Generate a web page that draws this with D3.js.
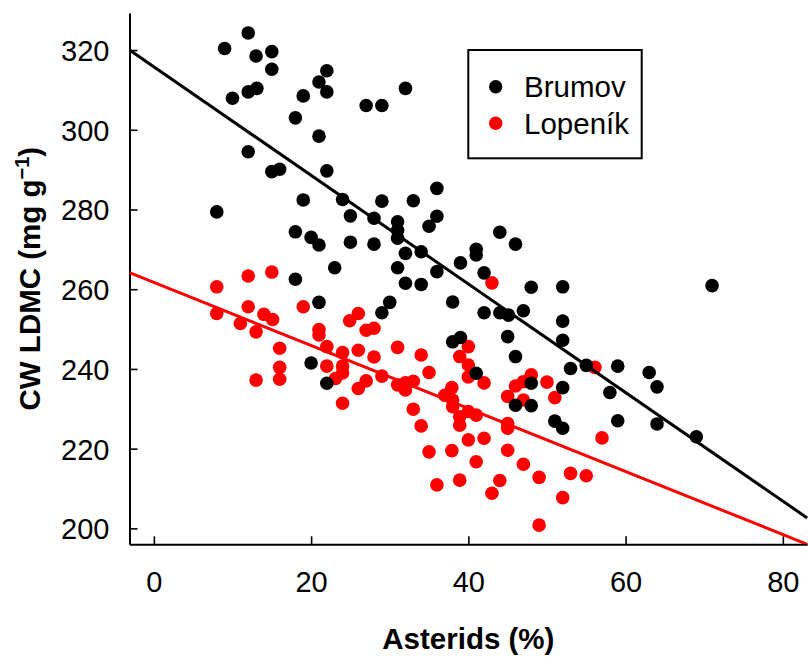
<!DOCTYPE html>
<html>
<head>
<meta charset="utf-8">
<script src="https://cdn.jsdelivr.net/npm/d3@7"></script>
<style>
  html, body { margin: 0; padding: 0; background: #fff; }
  svg { display: block; font-family: "Liberation Sans", Arial, sans-serif; }
</style>
</head>
<body>
<svg id="chart" width="808" height="657"></svg>
<script>
// Site samples: Asterids share (%) vs community-weighted LDMC (mg g-1)
const brumovX = [9.0, 12.0, 13.0, 15.0, 15.0, 10.0, 12.0, 13.1, 12.0, 15.0, 8.0, 22.0, 21.0, 22.0, 19.0, 18.0, 21.0, 27.0, 29.0, 32.0,
  16.0, 22.0, 19.0, 24.0, 29.0, 33.0, 36.0, 25.0, 28.0, 31.0, 31.0, 36.0, 35.0, 31.0, 18.0, 20.0, 21.0, 25.0, 28.0, 32.0,
  34.0, 23.0, 31.0, 39.0, 41.0, 41.0, 44.0, 46.0, 42.0, 36.0, 18.0, 32.0, 34.0, 21.0, 30.0, 29.0, 38.0, 48.0, 52.0, 42.0,
  44.0, 45.1, 47.0, 38.0, 39.0, 45.0, 46.0, 41.0, 20.0, 22.0, 48.0, 52.0, 46.0, 48.0, 51.0, 52.0, 71.0, 52.0, 52.0, 53.0,
  55.0, 59.0, 63.0, 64.0, 58.0, 59.0, 64.0, 69.0];
const brumovY = [320.4, 324.3, 318.5, 319.6, 315.2, 307.9, 309.5, 310.4, 294.5, 289.5, 279.4, 314.8, 312.0, 309.5, 308.5, 303.0, 298.4, 306.1, 306.1, 310.4,
  290.1, 289.7, 282.4, 282.5, 282.1, 282.2, 285.3, 278.4, 277.8, 276.9, 274.8, 278.3, 275.8, 272.8, 274.4, 273.0, 271.1, 271.8, 271.3, 269.0,
  269.4, 265.4, 265.4, 266.6, 270.0, 268.6, 274.3, 271.3, 264.1, 264.4, 262.5, 261.5, 261.2, 256.7, 256.7, 254.1, 256.8, 260.5, 260.6, 254.1,
  254.1, 253.5, 254.6, 246.8, 247.9, 248.1, 243.1, 238.9, 241.5, 236.4, 236.4, 235.3, 230.9, 230.8, 226.9, 225.1, 260.9, 252.0, 247.2, 240.1,
  240.9, 240.7, 239.1, 235.5, 234.1, 227.0, 226.2, 223.0];

const lopenikX = [8.0, 12.0, 15.0, 8.0, 12.0, 11.0, 13.0, 14.0, 15.1, 13.0, 19.0, 16.0, 16.0, 16.0, 21.0, 21.0, 22.0, 24.0, 24.0, 24.0,
  23.1, 22.0, 24.0, 24.9, 26.0, 27.0, 28.0, 26.0, 28.0, 27.0, 26.0, 29.0, 31.0, 31.0, 32.0, 32.0, 33.0, 34.0, 35.0, 33.0,
  34.0, 35.0, 36.0, 37.0, 37.9, 38.0, 38.0, 38.9, 38.9, 40.0, 41.0, 40.0, 42.0, 37.9, 41.0, 38.9, 40.0, 38.9, 40.0, 40.0,
  42.0, 45.0, 45.0, 45.0, 45.0, 47.0, 49.0, 44.0, 43.0, 49.0, 46.0, 47.0, 48.0, 50.0, 47.0, 51.0, 52.0, 43.0, 56.1, 57.0,
  53.0, 55.0];
const lopenikY = [260.6, 263.3, 264.3, 253.9, 255.6, 251.4, 249.3, 253.7, 252.4, 237.2, 255.6, 245.2, 240.4, 237.4, 249.9, 248.5, 245.6, 244.1, 240.7, 239.0,
  237.6, 240.7, 231.4, 252.1, 253.9, 249.7, 250.2, 244.7, 243.0, 237.0, 235.1, 238.2, 245.4, 236.0, 234.7, 236.5, 236.9, 243.5, 239.1, 229.9,
  225.7, 219.2, 210.9, 233.4, 235.3, 232.2, 230.5, 228.0, 225.9, 229.3, 228.4, 222.2, 222.6, 219.5, 216.7, 212.1, 245.6, 243.1, 241.0, 238.0,
  236.5, 233.1, 226.3, 225.1, 219.6, 216.1, 212.8, 212.0, 208.8, 200.8, 235.7, 236.8, 238.5, 236.7, 232.2, 232.8, 207.7, 261.6, 240.4, 222.7,
  213.8, 213.2];

// Linear fits [intercept, slope]
const brumovFit = [315.8, -1.362];
const lopenikFit = [261.7, -0.7906];

const seriesNames = ["Brumov", "Lopeník"];
const seriesColors = ["#000000", "#ff0000"];
const xTicks = [0, 20, 40, 60, 80];
const yTicks = [200, 220, 240, 260, 280, 300, 320];
const xDomain = [-3.1, 83.1];
const yDomain = [196, 329.3];

(function () {
  const svg = d3.select("#chart");
  const mLeft = 129.5, mRight = 807.2, mTop = 13, mBottom = 544.3;

  const x = d3.scaleLinear().domain(xDomain).range([mLeft, mRight]);
  const y = d3.scaleLinear().domain(yDomain).range([mBottom, mTop]);

  svg.append("defs").append("clipPath").attr("id", "plotClip")
    .append("rect").attr("x", mLeft).attr("y", mTop)
    .attr("width", mRight - mLeft + 2).attr("height", mBottom - mTop);

  // Axes with inward ticks
  const xAxis = svg.append("g").attr("transform", `translate(0,${mBottom})`)
    .call(d3.axisBottom(x).tickValues(xTicks).tickSizeInner(-8).tickSizeOuter(0));
  const yAxis = svg.append("g").attr("transform", `translate(${mLeft},0)`)
    .call(d3.axisLeft(y).tickValues(yTicks).tickSizeInner(-8).tickSizeOuter(0));

  [xAxis, yAxis].forEach(ax => {
    ax.select(".domain").attr("stroke", "#000").attr("stroke-width", 2);
    ax.selectAll(".tick line").attr("stroke", "#000").attr("stroke-width", 1.6);
    ax.selectAll(".tick text").attr("fill", "#000")
      .style("font-size", "29px").style("font-family", '"Liberation Sans", Arial, sans-serif');
  });
  xAxis.selectAll(".tick text").attr("y", 48).attr("dy", null);
  yAxis.selectAll(".tick text").attr("x", -20).attr("dy", "0.36em");

  // Points
  const plot = svg.append("g").attr("clip-path", "url(#plotClip)");
  const lopenik = lopenikX.map((v, i) => [v, lopenikY[i]]);
  const brumov = brumovX.map((v, i) => [v, brumovY[i]]);

  plot.append("g").selectAll("circle").data(lopenik).join("circle")
    .attr("cx", d => x(d[0])).attr("cy", d => y(d[1])).attr("r", 6.8)
    .attr("fill", seriesColors[1]);
  plot.append("g").selectAll("circle").data(brumov).join("circle")
    .attr("cx", d => x(d[0])).attr("cy", d => y(d[1])).attr("r", 6.8)
    .attr("fill", seriesColors[0]);

  // Regression lines
  [[brumovFit, seriesColors[0]], [lopenikFit, seriesColors[1]]].forEach(([fit, col]) => {
    const pts = xDomain.map(v => [v, fit[0] + fit[1] * v]);
    plot.append("line")
      .attr("x1", x(pts[0][0])).attr("y1", y(pts[0][1]))
      .attr("x2", x(pts[1][0])).attr("y2", y(pts[1][1]))
      .attr("stroke", col).attr("stroke-width", 3);
  });

  // Axis titles
  svg.append("text")
    .attr("x", x(40)).attr("y", 649)
    .attr("text-anchor", "middle")
    .style("font-size", "29.5px").style("font-weight", "bold")
    .text("Asterids (%)");

  const yTitle = svg.append("text")
    .attr("transform", `translate(40,${(mTop + mBottom) / 2}) rotate(-90)`)
    .attr("text-anchor", "middle")
    .style("font-size", "29.5px").style("font-weight", "bold");
  yTitle.append("tspan").text("CW LDMC (mg g");
  yTitle.append("tspan").attr("dy", -11).style("font-size", "20px").text("\u22121");
  yTitle.append("tspan").attr("dy", 11).text(")");

  // Legend
  const legend = svg.append("g");
  legend.append("rect")
    .attr("x", 468.3).attr("y", 50).attr("width", 173.4).attr("height", 108.3)
    .attr("fill", "#fff").attr("stroke", "#000").attr("stroke-width", 2);
  seriesNames.forEach((name, i) => {
    const cy = 86.7 + i * 36.6;
    legend.append("circle").attr("cx", 495.7).attr("cy", cy).attr("r", 6.7).attr("fill", seriesColors[i]);
    legend.append("text").attr("x", 524).attr("y", cy + 10.6)
      .style("font-size", "29.5px").attr("fill", "#000").text(name);
  });
})();
</script>
</body>
</html>
